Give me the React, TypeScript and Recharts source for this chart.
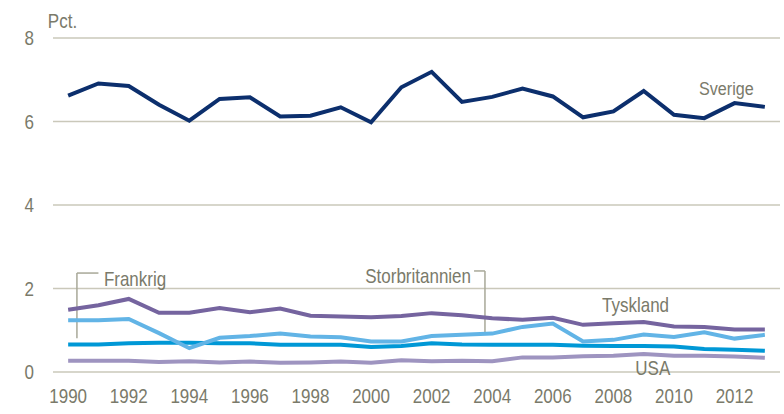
import React from 'react';
import {
  LineChart,
  Line,
  XAxis,
  YAxis,
  CartesianGrid,
  ReferenceLine,
  ReferenceDot,
} from 'recharts';

const years = [
  1990, 1991, 1992, 1993, 1994, 1995, 1996, 1997, 1998, 1999, 2000, 2001,
  2002, 2003, 2004, 2005, 2006, 2007, 2008, 2009, 2010, 2011, 2012, 2013,
];

const sverige = [
  6.62, 6.91, 6.85, 6.4, 6.02, 6.54, 6.58, 6.12, 6.14, 6.34, 5.98, 6.82,
  7.19, 6.47, 6.59, 6.79, 6.6, 6.1, 6.24, 6.73, 6.16, 6.08, 6.44, 6.35,
];
const tyskland = [
  1.49, 1.6, 1.75, 1.42, 1.42, 1.53, 1.43, 1.52, 1.35, 1.33, 1.31, 1.34,
  1.41, 1.36, 1.29, 1.25, 1.3, 1.13, 1.17, 1.2, 1.09, 1.08, 1.02, 1.02,
];
const storbritannien = [
  1.24, 1.24, 1.27, 0.93, 0.57, 0.82, 0.86, 0.92, 0.85, 0.83, 0.73, 0.73,
  0.86, 0.89, 0.92, 1.08, 1.16, 0.73, 0.77, 0.9, 0.84, 0.95, 0.8, 0.89,
];
const frankrig = [
  0.66, 0.66, 0.69, 0.7, 0.7, 0.69, 0.69, 0.65, 0.65, 0.65, 0.6, 0.62,
  0.69, 0.66, 0.65, 0.65, 0.65, 0.63, 0.62, 0.62, 0.61, 0.55, 0.53, 0.51,
];
const usa = [
  0.27, 0.27, 0.27, 0.24, 0.26, 0.23, 0.25, 0.22, 0.23, 0.25, 0.22, 0.28,
  0.26, 0.27, 0.26, 0.35, 0.35, 0.38, 0.39, 0.43, 0.39, 0.39, 0.37, 0.34,
];

const xTicks = [1990, 1992, 1994, 1996, 1998, 2000, 2002, 2004, 2006, 2008, 2010, 2012];
const yTicks = [0, 2, 4, 6, 8];

const data = years.map((year, i) => ({
  year,
  sverige: sverige[i],
  tyskland: tyskland[i],
  storbritannien: storbritannien[i],
  frankrig: frankrig[i],
  usa: usa[i],
}));

const FONT = "'Liberation Sans', Arial, sans-serif";
const TEXT = '#7a7a6a';
const GRID = '#cac8ba';
const BRACKET = '#a8a898';
const SQUEEZE = 0.85; // fake a narrow face, none is installed

function NarrowText({ x, y, value, anchor, size = 20 }: any) {
  return (
    <text
      transform={`translate(${x},${y}) scale(${SQUEEZE},1)`}
      textAnchor={anchor}
      dominantBaseline="central"
      fill={TEXT}
      fontSize={size}
      fontFamily={FONT}
    >
      {value}
    </text>
  );
}

const XTick = (props: any) => (
  <NarrowText x={props.x} y={props.y + 18} value={props.payload.value} anchor="middle" />
);
const YTick = (props: any) => (
  <NarrowText x={props.x} y={props.y} value={props.payload.value} anchor="end" />
);

// text label anchored at a data point
const textShape =
  (value: string, anchor: 'start' | 'middle' | 'end', size = 20) =>
  (props: any) => <NarrowText x={props.cx} y={props.cy} value={value} anchor={anchor} size={size} />;

export default function App() {
  return (
    <div style={{ position: 'absolute', left: 0, top: 0, background: '#fff' }}>
      <LineChart
        width={784}
        height={414}
        data={data}
        margin={{ top: 38, right: 4, left: 0, bottom: 0 }}
      >
        <CartesianGrid vertical={false} stroke={GRID} strokeWidth={1.5} />
        <XAxis
          dataKey="year"
          type="number"
          domain={[1989.5, 2013.5]}
          ticks={xTicks}
          axisLine={false}
          tickLine={false}
          tickMargin={0}
          height={42}
          tick={XTick}
        />
        <YAxis
          domain={[0, 8]}
          ticks={yTicks}
          axisLine={false}
          tickLine={false}
          tickMargin={13}
          width={53}
          tick={YTick}
        />

        <ReferenceLine
          segment={[{ x: 1990.29, y: 2.37 }, { x: 1990.29, y: 0.81 }]}
          stroke={BRACKET}
          strokeWidth={1.5}
        />
        <ReferenceLine
          segment={[{ x: 1990.29, y: 2.37 }, { x: 1991.0, y: 2.37 }]}
          stroke={BRACKET}
          strokeWidth={1.5}
        />
        <ReferenceLine
          segment={[{ x: 2003.4, y: 2.42 }, { x: 2003.76, y: 2.42 }]}
          stroke={BRACKET}
          strokeWidth={1.5}
        />
        <ReferenceLine
          segment={[{ x: 2003.76, y: 2.42 }, { x: 2003.76, y: 0.93 }]}
          stroke={BRACKET}
          strokeWidth={1.5}
        />

        <Line dataKey="usa" stroke="#9e94c0" strokeWidth={4} dot={false} isAnimationActive={false} />
        <Line dataKey="frankrig" stroke="#0098d6" strokeWidth={4} dot={false} isAnimationActive={false} />
        <Line dataKey="storbritannien" stroke="#62b4e6" strokeWidth={4} dot={false} isAnimationActive={false} />
        <Line dataKey="tyskland" stroke="#75649f" strokeWidth={4} dot={false} isAnimationActive={false} />
        <Line dataKey="sverige" stroke="#0c2f6d" strokeWidth={4} dot={false} isAnimationActive={false} />

        <ReferenceDot x={1989.33} y={8.41} r={0} ifOverflow="visible" shape={textShape('Pct.', 'start', 20)} />
        <ReferenceDot x={2011.73} y={6.78} r={0} shape={textShape('Sverige', 'middle', 19)} />
        <ReferenceDot x={2008.73} y={1.6} r={0} shape={textShape('Tyskland', 'middle')} />
        <ReferenceDot x={2009.3} y={0.1} r={0} shape={textShape('USA', 'middle')} />
        <ReferenceDot x={2003.3} y={2.3} r={0} shape={textShape('Storbritannien', 'end')} />
        <ReferenceDot x={1991.18} y={2.23} r={0} shape={textShape('Frankrig', 'start')} />
      </LineChart>
    </div>
  );
}
